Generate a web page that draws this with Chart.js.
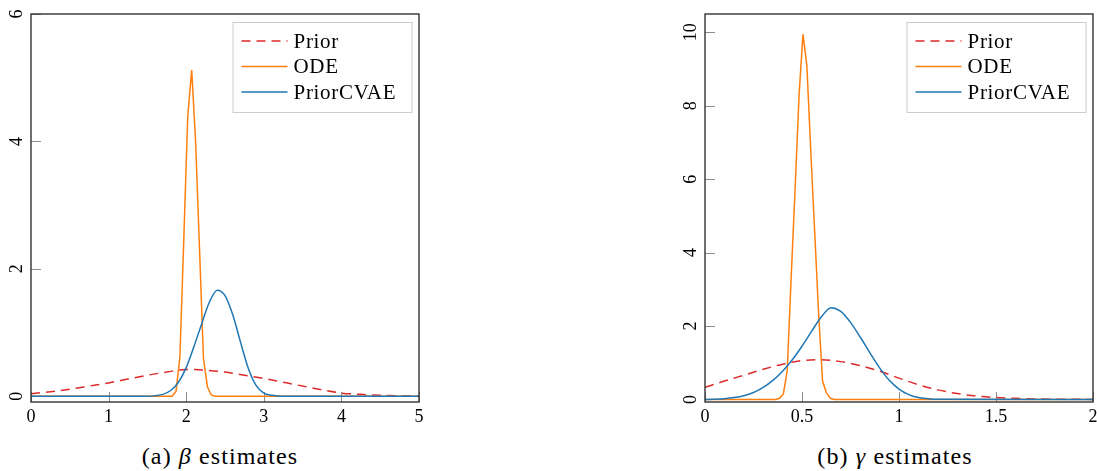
<!DOCTYPE html>
<html lang="en">
<head>
  <meta charset="UTF-8">
  <title>Beta and gamma estimates</title>
  <style>
    body {
      margin: 0;
      background: #fff;
      width: 1097px;
      height: 471px;
      overflow: hidden;
      position: relative;
      font-family: "Liberation Serif", serif;
    }
    .panel {
      position: absolute;
      top: 0;
    }
    .caption {
      position: absolute;
      top: 442px;
      width: 300px;
      font-size: 24px;
      line-height: 28px;
      letter-spacing: 1.1px;
      text-align: center;
      color: #000;
    }
  </style>
</head>
<body>

  <div class="panel" style="left:0"><canvas id="betaChart" width="440" height="430"></canvas></div>
  <div class="panel" style="left:674px"><canvas id="gammaChart" width="440" height="430"></canvas></div>
  <div class="caption" style="left:70px">(a) <i>β</i> estimates</div>
  <div class="caption" style="left:745px">(b) <i>γ</i> estimates</div>

  <script src="https://cdn.jsdelivr.net/npm/chart.js"></script>
  <script>
    // ---- (a) beta ----
    const betaXTicks = [0, 1, 2, 3, 4, 5];
    const betaYTicks = [0, 2, 4, 6];

    const betaPriorX = [0, 0.25, 0.5, 0.75, 1, 1.25, 1.5, 1.75, 2, 2.25, 2.5, 2.75, 3, 3.25, 3.5, 3.75, 4, 4.25, 4.5, 4.75, 5];
    const betaPriorY = [0.04, 0.07, 0.11, 0.16, 0.21, 0.27, 0.33, 0.38, 0.42, 0.41, 0.38, 0.33, 0.28, 0.22, 0.16, 0.10, 0.05, 0.03, 0.016, 0.008, 0.005];

    const betaOdeX = [0, 1.818, 1.869, 1.919, 1.970, 2.020, 2.071, 2.121, 2.172, 2.222, 2.273, 2.323, 2.374, 5];
    const betaOdeY = [0, 0, 0.08, 0.62, 2.5, 4.4, 5.12, 4.0, 2.3, 0.6, 0.15, 0.02, 0, 0];

    const betaCvaeX = [0, 1.5, 1.6, 1.7, 1.8, 1.9, 2.0, 2.1, 2.2, 2.3, 2.4, 2.5, 2.6, 2.7, 2.8, 2.9, 3.0, 3.1, 3.2, 3.3, 5];
    const betaCvaeY = [0, 0, 0.01, 0.03, 0.09, 0.22, 0.45, 0.78, 1.14, 1.48, 1.665, 1.58, 1.28, 0.85, 0.44, 0.17, 0.05, 0.015, 0.004, 0, 0];

    // ---- (b) gamma ----
    const gammaXTicks = [0, 0.5, 1, 1.5, 2];
    const gammaYTicks = [0, 2, 4, 6, 8, 10];

    const gammaPriorX = [0, 0.1, 0.2, 0.3, 0.4, 0.5, 0.6, 0.7, 0.8, 0.9, 1.0, 1.1, 1.2, 1.3, 1.4, 1.5, 1.6, 1.7, 1.8, 1.9, 2.0];
    const gammaPriorY = [0.33, 0.50, 0.66, 0.82, 0.96, 1.06, 1.08, 1.03, 0.92, 0.77, 0.58, 0.40, 0.26, 0.16, 0.09, 0.05, 0.03, 0.015, 0.007, 0.003, 0.001];

    const gammaOdeX = [0, 0.364, 0.384, 0.404, 0.424, 0.444, 0.465, 0.485, 0.505, 0.525, 0.545, 0.566, 0.586, 0.606, 0.626, 0.646, 0.667, 2];
    const gammaOdeY = [0, 0, 0.03, 0.15, 0.8, 3.3, 5.8, 8.3, 9.95, 9.1, 6.8, 4.5, 2.3, 0.5, 0.18, 0.03, 0, 0];

    const gammaCvaeX = [0, 0.05, 0.1, 0.15, 0.2, 0.25, 0.3, 0.35, 0.4, 0.45, 0.5, 0.55, 0.6, 0.65, 0.7, 0.75, 0.8, 0.85, 0.9, 0.95, 1.0, 1.05, 1.1, 1.15, 1.2, 2];
    const gammaCvaeY = [0, 0.005, 0.02, 0.05, 0.10, 0.19, 0.33, 0.52, 0.77, 1.08, 1.45, 1.86, 2.25, 2.50, 2.40, 2.10, 1.70, 1.27, 0.86, 0.52, 0.28, 0.13, 0.05, 0.02, 0.005, 0];

    const FONT = '"Liberation Serif", serif';

    function points(xs, ys) {
      return xs.map((x, i) => ({ x: x, y: ys[i] }));
    }

    // inward tick marks (bottom + left), like pgfplots
    const innerTicks = {
      id: 'innerTicks',
      beforeDatasetsDraw(chart) {
        const { ctx, chartArea: a, scales: { x, y } } = chart;
        ctx.save();
        ctx.strokeStyle = '#8c8c8c';
        ctx.lineWidth = 1;
        ctx.beginPath();
        x.ticks.forEach(t => {
          const px = Math.round(x.getPixelForValue(t.value)) + 0.5;
          ctx.moveTo(px, a.bottom);
          ctx.lineTo(px, a.bottom - 10);
        });
        y.ticks.forEach(t => {
          const py = Math.round(y.getPixelForValue(t.value)) + 0.5;
          ctx.moveTo(a.left, py);
          ctx.lineTo(a.left + 10, py);
        });
        ctx.stroke();
        ctx.restore();
      }
    };

    // box round the plot + rotated y labels
    const frame = {
      id: 'frame',
      afterDatasetsDraw(chart) {
        const { ctx, chartArea: a, scales: { y } } = chart;
        ctx.save();
        ctx.strokeStyle = '#333';
        ctx.lineWidth = 1.4;
        ctx.strokeRect(a.left, a.top, a.right - a.left, a.bottom - a.top);

        ctx.fillStyle = '#000';
        ctx.font = '18px ' + FONT;
        ctx.textAlign = 'center';
        ctx.textBaseline = 'middle';
        y.ticks.forEach(t => {
          ctx.save();
          ctx.translate(a.left - 13.5, y.getPixelForValue(t.value));
          ctx.rotate(-Math.PI / 2);
          ctx.fillText(String(t.value), 0, 0);
          ctx.restore();
        });
        ctx.restore();
      }
    };

    // legend box in the upper right corner
    const boxLegend = {
      id: 'boxLegend',
      afterDraw(chart) {
        const { ctx, chartArea: a } = chart;
        const w = 179, h = 90;
        const bx = a.right - 7.5 - w, by = a.top + 8;
        ctx.save();
        ctx.fillStyle = '#fff';
        ctx.fillRect(bx, by, w, h);
        ctx.strokeStyle = '#cccccc';
        ctx.lineWidth = 1;
        ctx.strokeRect(bx + 0.5, by + 0.5, w, h);
        ctx.font = '21px ' + FONT;
        ctx.letterSpacing = '0.7px';
        ctx.textAlign = 'left';
        ctx.textBaseline = 'middle';
        chart.data.datasets.forEach((ds, i) => {
          const ly = by + 19 + i * 25.5;
          ctx.strokeStyle = ds.borderColor;
          ctx.lineWidth = ds.borderWidth;
          ctx.setLineDash(ds.borderDash || []);
          ctx.beginPath();
          ctx.moveTo(bx + 9, ly);
          ctx.lineTo(bx + 55, ly);
          ctx.stroke();
          ctx.setLineDash([]);
          ctx.fillStyle = '#000';
          ctx.fillText(ds.label, bx + 61, ly + 1);
        });
        ctx.restore();
      }
    };

    function makeChart(id, xr, yr, xTicks, yTicks, prior, ode, cvae) {
      const ctx = document.getElementById(id).getContext('2d');
      return new Chart(ctx, {
        type: 'line',
        data: {
          datasets: [{
            label: 'Prior',
            data: prior,
            borderColor: '#dc2a2a',
            borderDash: [9, 6],
            borderWidth: 1.5,
            pointRadius: 0,
            cubicInterpolationMode: 'monotone',
            fill: false,
            order: 2
          }, {
            label: 'ODE',
            data: ode,
            borderColor: '#ff7f0e',
            borderWidth: 1.5,
            pointRadius: 0,
            tension: 0,
            fill: false,
            order: 1
          }, {
            label: 'PriorCVAE',
            data: cvae,
            borderColor: '#1f77b4',
            borderWidth: 1.5,
            pointRadius: 0,
            cubicInterpolationMode: 'monotone',
            fill: false,
            order: 0
          }]
        },
        options: {
          responsive: false,
          animation: false,
          devicePixelRatio: 1,
          layout: { padding: { top: 14, right: 21, left: 0, bottom: 0 } },
          plugins: {
            legend: { display: false },
            tooltip: { enabled: false }
          },
          scales: {
            x: {
              type: 'linear',
              min: xr[0],
              max: xr[1],
              grid: { display: false, drawTicks: false },
              border: { display: false },
              ticks: {
                color: '#000',
                font: { family: FONT, size: 18 },
                padding: 4,
                maxRotation: 0,
                autoSkip: false,
                callback: v => String(v)
              },
              afterBuildTicks: s => { s.ticks = xTicks.map(v => ({ value: v })); },
              afterFit: s => { s.height = 28; }
            },
            y: {
              type: 'linear',
              min: yr[0],
              max: yr[1],
              grid: { display: false, drawTicks: false },
              border: { display: false },
              ticks: { display: false },
              afterBuildTicks: s => { s.ticks = yTicks.map(v => ({ value: v })); },
              afterFit: s => { s.width = 31; }
            }
          }
        },
        plugins: [innerTicks, frame, boxLegend]
      });
    }

    makeChart('betaChart', [0, 5], [-0.09, 6], betaXTicks, betaYTicks,
      points(betaPriorX, betaPriorY), points(betaOdeX, betaOdeY), points(betaCvaeX, betaCvaeY));

    makeChart('gammaChart', [0, 2], [-0.07, 10.5], gammaXTicks, gammaYTicks,
      points(gammaPriorX, gammaPriorY), points(gammaOdeX, gammaOdeY), points(gammaCvaeX, gammaCvaeY));
  </script>

</body>
</html>
